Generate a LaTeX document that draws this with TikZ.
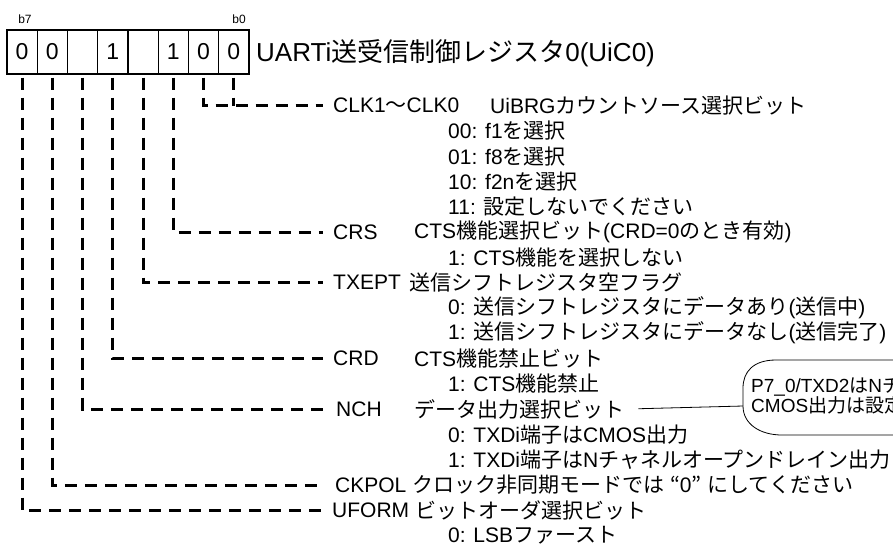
\documentclass[tikz,border=0pt]{standalone}
\usepackage{fontspec}
\setmainfont{Liberation Sans}
\newfontfamily\jpfont{Noto Sans CJK JP}
\usetikzlibrary{positioning,calc}

% Japanese characters are set in the CJK font automatically
\XeTeXinterchartokenstate=1
\newXeTeXintercharclass\jpclass
\newcount\jpcnt
\def\setjp#1#2{\jpcnt=#1 \loop\XeTeXcharclass\jpcnt=\jpclass\ifnum\jpcnt<#2 \advance\jpcnt by 1 \repeat}
\setjp{"3000}{"30FF}
\setjp{"4E00}{"9FFF}
\setjp{"FF00}{"FFEF}
\XeTeXcharclass"201C=\jpclass
\XeTeXcharclass"201D=\jpclass
\XeTeXinterchartoks 0 \jpclass={\jpfont}
\XeTeXinterchartoks 4095 \jpclass={\jpfont}
\XeTeXinterchartoks \jpclass 0={\rmfamily}
\XeTeXinterchartoks \jpclass 4095={\rmfamily}

\begin{document}
\begin{tikzpicture}[x=1pt,y=-1pt,
    bitcell/.style={draw,line width=1.2pt,minimum width=30.25pt,minimum height=44pt,inner sep=0pt,font=\fontsize{23}{27}\selectfont},
    lbl/.style={anchor=west,inner sep=0pt,font=\fontsize{21}{25}\selectfont},
    leader/.style={line width=3pt,dash pattern=on 12pt off 8pt,shorten <=3pt,shorten >=10pt},
    thin/.style={line width=0.8pt}]
    \useasboundingbox (0,0) rectangle (893,550);
    \clip (0,0) rectangle (893,550);

    % register bits, b7 on the left
    \foreach \v [count=\i from 0, evaluate=\i as \b using int(7-\i)] in {0,0,{},1,{},1,0,0}
        \node[bitcell] (bit\b) at (22.1+30.25*\i,52) {\v};
    \node[font=\fontsize{12}{14}\selectfont] (b7) at (25,19) {b7};
    \node[font=\fontsize{12}{14}\selectfont] (b0) at (239,19) {b0};
    \node[lbl,font=\fontsize{26}{30}\selectfont] (title) at (256,53) {UARTi送受信制御レジスタ0(UiC0)};

    \node[lbl] (clk) at (333,105.5) {CLK1～CLK0};
    \node[lbl] (clkd) at (490,105.5) {UiBRGカウントソース選択ビット};
    \node[lbl] (clk0) at (448,130.8) {00: f1を選択};
    \node[lbl] (clk1) at (448,156.1) {01: f8を選択};
    \node[lbl] (clk2) at (448,181.4) {10: f2nを選択};
    \node[lbl] (clk3) at (448,206.7) {11: 設定しないでください};
    \node[lbl] (crs) at (333,232) {CRS};
    \node[lbl] (crsd) at (414,232) {CTS機能選択ビット(CRD=0のとき有効)};
    \node[lbl] (crs1) at (448,257.3) {1: CTS機能を選択しない};
    \node[lbl] (txept) at (333,282.6) {TXEPT};
    \node[lbl] (txeptd) at (409,282.6) {送信シフトレジスタ空フラグ};
    \node[lbl] (txept0) at (448,307.9) {0: 送信シフトレジスタにデータあり(送信中)};
    \node[lbl] (txept1) at (448,333.2) {1: 送信シフトレジスタにデータなし(送信完了)};
    \node[lbl] (crd) at (333,358.5) {CRD};
    \node[lbl] (crdd) at (414,358.5) {CTS機能禁止ビット};
    \node[lbl] (crd1) at (448,383.8) {1: CTS機能禁止};
    \node[lbl] (nch) at (336,409.1) {NCH};
    \node[lbl] (nchd) at (414,409.1) {データ出力選択ビット};
    \node[lbl] (nch0) at (448,434.4) {0: TXDi端子はCMOS出力};
    \node[lbl] (nch1) at (448,459.7) {1: TXDi端子はNチャネルオープンドレイン出力};
    \node[lbl] (ckpol) at (335,485) {CKPOL};
    \node[lbl] (ckpold) at (412,485) {クロック非同期モードでは “0” にしてください};
    \node[lbl] (uform) at (332,510.3) {UFORM};
    \node[lbl] (uformd) at (415,510.3) {ビットオーダ選択ビット};
    \node[lbl] (uform0) at (448,535.6) {0: LSBファースト};

    \draw[leader] (bit1.south) |- (clk.west);
    \draw[leader,shorten >=0pt] (bit0.south) -- (bit0.south |- clk.west);
    \draw[leader] (bit2.south) |- (crs.west);
    \draw[leader] (bit3.south) |- (txept.west);
    \draw[leader] (bit4.south) |- (crd.west);
    \draw[leader] (bit5.south) |- (nch.west);
    \draw[leader,shorten >=14pt] (bit6.south) |- (ckpol.west);
    \draw[leader] (bit7.south) |- (uform.west);

    % note on NCH, cut off by the right edge
    \node[anchor=west,inner sep=0pt,align=left,font=\fontsize{19}{15}\selectfont] (note) at (751,396) {P7\_0/TXD2はNチ\\CMOS出力は設定};
    \coordinate (notetip) at (743,406);
    \draw[thin] (900,360) -- (776,360) .. controls (753,360) and (743,372) .. (743,388) -- (notetip) .. controls (743,424) and (760,435) .. (782,435) -- (900,435);
    \draw[thin,shorten <=14pt] (nchd.east) -- (notetip);
\end{tikzpicture}
\end{document}
